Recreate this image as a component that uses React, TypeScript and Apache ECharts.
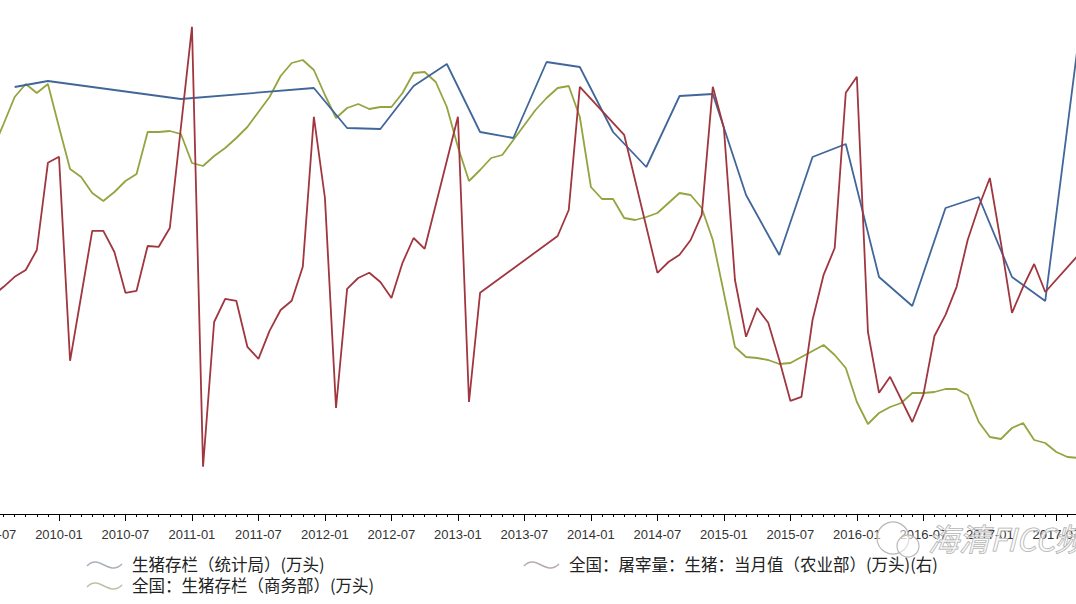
import React, { useEffect, useRef } from "react";
import * as echarts from "echarts";

// Monthly categories 2009-07 .. 2017-09
const startYear = 2009;
const startMonth = 7;
const monthCount = 99;
const months: string[] = [];
for (let k = 0; k < monthCount; k++) {
  const m0 = startMonth - 1 + k;
  const y = startYear + Math.floor(m0 / 12);
  const m = (m0 % 12) + 1;
  months.push(`${y}-${m < 10 ? "0" + m : m}`);
}
const majorMonths = ["01", "07"];

const seriesNames = [
  "生猪存栏（统计局）(万头)",
  "全国：生猪存栏（商务部）(万头)",
  "全国：屠宰量：生猪：当月值（农业部）(万头)(右)",
];

// 统计局 quarterly (万头), null where no quarterly value
const statsBureau: (number | null)[] = [
  null, null, 48675, null, null, 48825, null, null, null, null, null, null,
  null, null, null, null, null, 48375, null, null, null, null, null, null,
  null, null, null, null, null, 48650, null, null, 47650, null, null, 47625,
  null, null, 48700, null, null, 49250, null, null, 47550, null, null, 47400,
  null, null, 49300, null, null, 49175, null, null, 47550, null, null, 46675,
  null, null, 48450, null, null, 48500, null, null, 45975, null, null, 44475,
  null, null, 46925, null, null, 47250, null, null, 43925, null, null, 43200,
  null, null, 45650, null, null, 45925, null, null, 43925, null, null, 43325,
  null, null, 49850,
];

// 商务部 monthly (万头)
const commerceMinistry: number[] = [
  47100, 47750, 48425, 48750, 48525, 48750, 47675, 46625, 46425, 46025, 45825, 46050,
  46325, 46500, 47550, 47550, 47575, 47500, 46775, 46700, 46950, 47150, 47400, 47675,
  48050, 48425, 48950, 49275, 49350, 49100, 48475, 47900, 48150, 48250, 48125, 48175,
  48175, 48525, 49025, 49050, 48800, 48175, 47175, 46325, 46600, 46900, 46975, 47350,
  47725, 48100, 48400, 48650, 48700, 47925, 46175, 45875, 45875, 45400, 45350, 45425,
  45525, 45775, 46025, 45975, 45650, 44850, 43525, 42175, 41925, 41900, 41850, 41750,
  41775, 41925, 42075, 42225, 41975, 41650, 40800, 40250, 40525, 40675, 40775, 41025,
  41025, 41050, 41125, 41125, 40975, 40300, 39925, 39875, 40150, 40275, 39850, 39775,
  39550, 39425, 39400,
];

// 农业部 monthly slaughter (万头), right axis
const slaughter: (number | null)[] = [
  1545, 1568, 1593, 1610, 1660, 1878, 1893, 1383, 1545, 1708, 1708, 1655,
  1553, 1558, 1670, 1668, 1715, null, 2218, 1118, 1480, 1538, 1533, 1418,
  1388, 1458, 1510, 1533, 1618, 1993, 1790, 1265, 1563, 1590, 1603, 1580,
  1540, 1628, 1690, 1663, null, null, 1993, 1280, 1553, null, null, null,
  null, null, null, 1695, 1760, 2068, null, null, null, 1948, null, null,
  1603, 1630, 1648, 1685, 1748, 2068, 1965, 1585, 1443, 1515, 1478, 1385,
  1283, 1293, 1485, 1598, 1665, 2053, 2093, 1455, 1303, 1343, null, 1230,
  1298, 1445, 1498, 1568, 1685, 1768, 1840, 1678, 1503, 1568, 1625, 1555,
  null, null, 1648,
];

const colors = ["#40669a", "#93a440", "#a0363f"];
const legendIconColors = ["#a9b2bb", "#bcc0a8", "#bba9ab"];

const isMajor = (v: string) => majorMonths.indexOf(v.slice(5)) >= 0;

// the chart canvas is wider than the window and shifted left, so the plot is cropped at both sides
const SHIFT = 60;
const CANVAS_W = 1076 + 2 * SHIFT;

function wave(x: number, y: number, color: string) {
  const X = x + SHIFT;
  return {
    type: "bezierCurve",
    shape: {
      x1: X, y1: y + 1,
      cpx1: X + 12, cpy1: y - 12,
      cpx2: X + 22, cpy2: y + 12,
      x2: X + 35, y2: y - 1,
    },
    style: { stroke: color, lineWidth: 1.6, fill: null },
  };
}

export default function App() {
  const ref = useRef<HTMLDivElement>(null);
  useEffect(() => {
    if (!ref.current) return;
    const chart = echarts.init(ref.current, undefined, { renderer: "svg" });
    const legendFont = '"Noto Sans CJK SC", "Microsoft YaHei", sans-serif';
    chart.setOption({
      animation: false,
      backgroundColor: "#ffffff",
      grid: {
        left: SHIFT - 7.5,
        right: SHIFT - 2.5,
        top: 10,
        bottom: 90,
        containLabel: false,
        outerBoundsMode: "none",
      },
      xAxis: [
        {
          type: "category",
          data: months,
          boundaryGap: false,
          axisLine: { show: true, onZero: false, lineStyle: { color: "#000", width: 1 } },
          axisTick: { show: true, interval: 0, length: 3, lineStyle: { color: "#000", width: 1 } },
          axisLabel: {
            interval: (_i: number, v: string) => isMajor(v),
            color: "#333",
            fontSize: 13,
            fontFamily: '"Liberation Sans", Arial, sans-serif',
            margin: 14,
          },
          splitLine: { show: false },
        },
        {
          type: "category",
          data: months,
          boundaryGap: false,
          position: "bottom",
          axisLine: { show: false, onZero: false },
          axisTick: {
            show: true,
            interval: (_i: number, v: string) => isMajor(v),
            length: 7,
            lineStyle: { color: "#000", width: 1 },
          },
          axisLabel: { show: false },
          splitLine: { show: false },
        },
      ],
      yAxis: [
        { type: "value", min: 38000, max: 50600, show: false, splitLine: { show: false } },
        { type: "value", min: 1000, max: 2260, show: false, splitLine: { show: false } },
      ],
      series: [
        {
          name: seriesNames[0],
          type: "line",
          data: statsBureau,
          yAxisIndex: 0,
          connectNulls: true,
          symbol: "none",
          lineStyle: { color: colors[0], width: 1.8 },
          z: 3,
        },
        {
          name: seriesNames[1],
          type: "line",
          data: commerceMinistry,
          yAxisIndex: 0,
          symbol: "none",
          lineStyle: { color: colors[1], width: 1.8 },
          z: 2,
        },
        {
          name: seriesNames[2],
          type: "line",
          data: slaughter,
          yAxisIndex: 1,
          connectNulls: true,
          symbol: "none",
          lineStyle: { color: colors[2], width: 1.8 },
          z: 4,
        },
      ],
      graphic: [
        wave(87, 565, legendIconColors[0]),
        { type: "text", x: 132 + SHIFT, y: 556, style: { text: seriesNames[0], fill: "#222", font: `16.5px ${legendFont}` } },
        wave(87, 586, legendIconColors[1]),
        { type: "text", x: 132 + SHIFT, y: 577, style: { text: seriesNames[1], fill: "#222", font: `16.5px ${legendFont}` } },
        wave(524, 565, legendIconColors[2]),
        { type: "text", x: 569 + SHIFT, y: 556, style: { text: seriesNames[2], fill: "#222", font: `16.5px ${legendFont}` } },
        {
          type: "circle",
          shape: { cx: 893 + SHIFT, cy: 538, r: 16 },
          style: { fill: "rgba(255,255,255,0.5)", stroke: "#b8b8b8", lineWidth: 1.2 },
          z: 100,
        },
        {
          type: "circle",
          shape: { cx: 908 + SHIFT, cy: 546, r: 11 },
          style: { fill: "rgba(255,255,255,0.5)", stroke: "#b8b8b8", lineWidth: 1.2 },
          z: 100,
        },
        {
          type: "text",
          x: 928 + SHIFT,
          y: 522,
          style: {
            text: "海清FICC频道",
            fill: "rgba(255,255,255,0.5)",
            stroke: "#a8a8a8",
            lineWidth: 1,
            font: `italic 31px ${legendFont}`,
          },
          z: 100,
        },
      ],
    });
    return () => chart.dispose();
  }, []);
  return (
    <div style={{ position: "fixed", left: 0, top: 0, width: 1076, height: 604, overflow: "hidden", background: "#fff" }}>
      <div ref={ref} style={{ position: "absolute", left: -SHIFT, top: 0, width: CANVAS_W, height: 604 }} />
    </div>
  );
}
